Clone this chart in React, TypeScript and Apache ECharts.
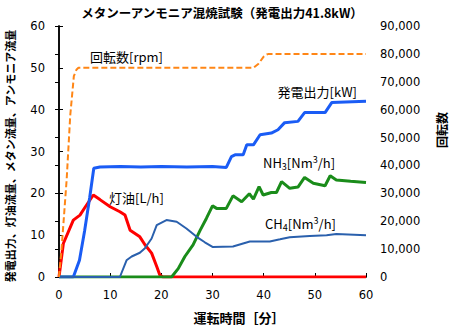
import React, { useEffect, useRef } from "react";
import * as echarts from "echarts";

const xTicks = [0, 10, 20, 30, 40, 50, 60];

const rpmT = [0, 0.5, 1.5, 2.2, 2.9, 3.4, 3.8, 38, 39, 40, 40.6, 41, 60];
const rpmV = [0, 10000, 35000, 58000, 72000, 74300, 75000, 75000, 76500, 79000, 79800, 80000, 80000];

const powerT = [0, 2.8, 4, 5, 6, 6.8, 8, 12, 16, 20, 25, 30, 32.7, 33.7, 34.4, 36, 36.7, 38, 39.3, 41.5, 42.8, 44.1, 46.7, 48, 52, 53.3, 60];
const powerV = [0, 0, 4, 11, 19, 26, 26.3, 26.4, 26.3, 26.4, 26.3, 26.4, 26.2, 28.8, 29.2, 29.2, 31.6, 31.6, 34, 34.4, 35.2, 36.9, 37.2, 39.3, 39.3, 41.7, 42];

const keroT = [0, 0.85, 2.8, 4.1, 5, 6.7, 8, 10, 11.9, 12.9, 13.9, 15.8, 16.8, 18.1, 19.1, 19.7, 20.3, 60];
const keroV = [0, 8, 13.6, 14.8, 16.5, 19.6, 18.5, 16.8, 15.6, 14.8, 11.2, 9.6, 7.7, 5.7, 2.5, 0.5, 0, 0];

const nh3T = [0, 22, 23.3, 24.6, 26.2, 27.6, 28.8, 30, 30.8, 32.7, 34, 35.7, 37.2, 38, 39.1, 39.9, 41.5, 42.5, 43.5, 45.1, 46.7, 48, 49.7, 52, 53, 54.2, 57, 60];
const nh3V = [0, 0, 2, 4.9, 7.7, 11.2, 14, 17, 16.4, 16.4, 19.4, 18, 19.9, 18.6, 21.6, 19.6, 20.2, 20.2, 22.8, 21.2, 21.5, 23.8, 22.4, 21.8, 24.2, 23.2, 22.9, 22.6];

const ch4T = [0, 11.9, 13.2, 14.2, 15.8, 16.8, 18.1, 19.1, 21, 23, 24.9, 26.9, 28.5, 30, 34, 37.3, 41.2, 43.2, 45.1, 49, 52.3, 54.2, 60];
const ch4V = [0, 0, 4, 4.9, 5.8, 6.9, 9.2, 12.4, 13.6, 13.2, 11.6, 9.6, 8.3, 7.2, 7.3, 8.5, 8.5, 9, 9.5, 9.8, 10, 10.3, 10];

const pairs = (t: number[], v: number[]) => t.map((x, i) => [x, v[i]]);

const CJK = "'Noto Sans CJK JP', 'Noto Sans', sans-serif";
const NUM = "'DejaVu Sans', 'Noto Sans', sans-serif";

export default function App() {
  const ref = useRef<HTMLDivElement>(null);
  useEffect(() => {
    if (!ref.current) return;
    const chart = echarts.init(ref.current, undefined, { renderer: "svg" });
    const axisLine = { show: true, lineStyle: { color: "#000", width: 1.5 } };
    const axisTick = { show: true, inside: true, length: 4, lineStyle: { color: "#000", width: 1 } };
    const lbl = { color: "#000", fontSize: 11.5, fontFamily: NUM };
    chart.setOption({
      animation: false,
      backgroundColor: "#fff",
      grid: { left: 59, right: 84, top: 26, bottom: 53 },
      xAxis: [
        {
          type: "value", min: 0, max: 60, interval: 10, position: "bottom",
          axisLine, axisTick, splitLine: { show: false },
          axisLabel: { ...lbl, margin: 12, formatter: (v: number) => (xTicks.includes(v) ? String(v) : "") },
        },
        {
          type: "value", min: 0, max: 60, interval: 10, position: "top",
          axisLine, axisTick: { show: false }, axisLabel: { show: false }, splitLine: { show: false },
        },
      ],
      yAxis: [
        {
          type: "value", min: 0, max: 60, interval: 10, position: "left",
          axisLine, axisTick, splitLine: { show: false },
          axisLabel: { ...lbl, margin: 14 },
        },
        {
          type: "value", min: 0, max: 90000, interval: 10000, position: "right",
          axisLine, axisTick, splitLine: { show: false },
          axisLabel: { ...lbl, margin: 14, formatter: (v: number) => v.toLocaleString("en-US") },
        },
      ],
      series: [
        { type: "line", name: "灯油", data: pairs(keroT, keroV), symbol: "none", lineStyle: { color: "#ff0000", width: 3 }, z: 2 },
        { type: "line", name: "NH3", data: pairs(nh3T, nh3V), symbol: "none", lineStyle: { color: "#1a8c1a", width: 3 }, z: 3 },
        { type: "line", name: "発電出力", data: pairs(powerT, powerV), symbol: "none", lineStyle: { color: "#1a5cf5", width: 3 }, z: 4 },
        { type: "line", name: "CH4", data: pairs(ch4T, ch4V), symbol: "none", lineStyle: { color: "#2a60ad", width: 2 }, z: 5 },
        { type: "line", name: "回転数", yAxisIndex: 1, data: pairs(rpmT, rpmV), symbol: "none", lineStyle: { color: "#ff8616", width: 2, type: [6, 3] }, z: 6 },
      ],
      graphic: [
        { type: "text", x: 222, y: 12, style: { text: "メタンーアンモニア混焼試験（発電出力41.8kW）", font: `bold 12.5px ${CJK}`, fill: "#000", align: "center", verticalAlign: "middle" } },
        { type: "text", x: 10, y: 156, rotation: Math.PI / 2, style: { text: "発電出力、灯油流量、メタン流量、アンモニア流量", font: `bold 11px ${CJK}`, fill: "#000", align: "center", verticalAlign: "middle" } },
        { type: "text", x: 441, y: 130, rotation: Math.PI / 2, style: { text: "回転数", font: `bold 12px ${CJK}`, fill: "#000", align: "center", verticalAlign: "middle" } },
        { type: "text", x: 239, y: 317, style: { text: "運転時間［分］", font: `bold 13px ${CJK}`, fill: "#000", align: "center", verticalAlign: "middle" } },
        { type: "text", x: 90, y: 56, style: { text: "回転数[rpm]", font: `13px ${CJK}`, fill: "#000", align: "left", verticalAlign: "middle" } },
        { type: "text", x: 357, y: 91, style: { text: "発電出力[kW]", font: `13px ${CJK}`, fill: "#000", align: "right", verticalAlign: "middle" } },
        { type: "text", x: 109, y: 197, style: { text: "灯油[L/h]", font: `13px ${CJK}`, fill: "#000", align: "left", verticalAlign: "middle" } },
        {
          type: "text", x: 263, y: 162,
          style: {
            text: "{n|NH}{s|3}{n|[Nm}{p|3}{n|/h]}", align: "left", verticalAlign: "middle", fill: "#000",
            rich: {
              n: { fontSize: 13, fontFamily: CJK, fill: "#000" },
              s: { fontSize: 9, fontFamily: CJK, fill: "#000", padding: [8, 0, 0, 0] },
              p: { fontSize: 9, fontFamily: CJK, fill: "#000", padding: [0, 0, 6, 0] },
            },
          },
        },
        {
          type: "text", x: 265, y: 223,
          style: {
            text: "{n|CH}{s|4}{n|[Nm}{p|3}{n|/h]}", align: "left", verticalAlign: "middle", fill: "#000",
            rich: {
              n: { fontSize: 13, fontFamily: CJK, fill: "#000" },
              s: { fontSize: 9, fontFamily: CJK, fill: "#000", padding: [8, 0, 0, 0] },
              p: { fontSize: 9, fontFamily: CJK, fill: "#000", padding: [0, 0, 6, 0] },
            },
          },
        },
      ],
    });
    return () => chart.dispose();
  }, []);
  return <div ref={ref} style={{ position: "absolute", left: 0, top: 0, width: 450, height: 330 }} />;
}
